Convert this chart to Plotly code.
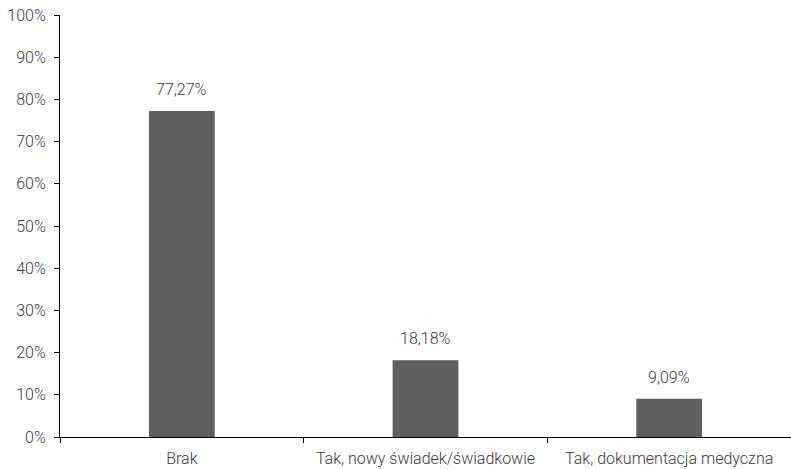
import plotly.graph_objects as go

categories = ["Brak", "Tak, nowy świadek/świadkowie", "Tak, dokumentacja medyczna"]
values = [77.27, 18.18, 9.09]
y_ticks = [0, 10, 20, 30, 40, 50, 60, 70, 80, 90, 100]
y_tick_labels = [f"{t}%" for t in y_ticks]

font_family = "Roboto, Liberation Sans, Arial, sans-serif"
text_color = "#3a3a3a"
base_font = dict(family=font_family, size=16, color=text_color, weight=300)

fig = go.Figure()
fig.add_trace(go.Bar(
    x=categories, y=values,
    marker=dict(color="#5f5f5f", line=dict(width=0)),
    hoverinfo="skip",
))

for c, v in zip(categories, values):
    fig.add_annotation(
        x=c, y=v, text=f"{v:.2f}%".replace(".", ","),
        showarrow=False, yanchor="bottom", yshift=10,
        font=base_font,
    )

fig.update_layout(
    width=791, height=469,
    margin=dict(l=60, r=0, t=15, b=32),
    paper_bgcolor="white", plot_bgcolor="white",
    bargap=0.73,
    showlegend=False,
    font=base_font,
)
fig.update_xaxes(
    showline=True, linecolor="black", linewidth=1,
    ticks="outside", tickson="boundaries", ticklen=5, tickcolor="black",
    ticklabelstandoff=7, tickfont=base_font,
    showgrid=False, zeroline=False,
)
fig.update_yaxes(
    range=[0, 100], tickmode="array", tickvals=y_ticks, ticktext=y_tick_labels,
    showline=True, linecolor="black", linewidth=1,
    ticks="outside", ticklen=5, tickcolor="black",
    ticklabelstandoff=5, tickfont=base_font,
    showgrid=False, zeroline=False,
)

fig.write_html(
    "out.html",
    config={"displayModeBar": False},
    post_script="document.body.style.margin='0';document.body.style.overflow='hidden';",
)
